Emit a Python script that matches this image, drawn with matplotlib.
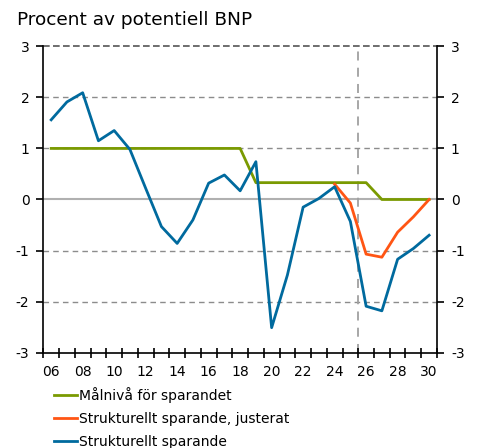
import matplotlib
matplotlib.use("Agg")
import matplotlib.pyplot as plt
import numpy as np

years = list(range(2006, 2031))
strukturellt = [1.56, 1.91, 2.09, 1.15, 1.35, 0.98, 0.22, -0.53, -0.86, -0.40,
                0.32, 0.48, 0.17, 0.74, -2.51, -1.48, -0.15, 0.02, 0.25, -0.43,
                -2.09, -2.18, -1.17, -0.96, -0.70]
just_years = list(range(2024, 2031))
justerat = [0.30, -0.07, -1.07, -1.13, -0.64, -0.34, 0.0]
malniva = [1.0]*13 + [0.33]*8 + [0.0]*4

tick_labels = ["06", "08", "10", "12", "14", "16", "18", "20", "22", "24", "26", "28", "30"]
tick_years = list(range(2006, 2031, 2))

GREEN = "#7a9a01"
ORANGE = "#ff5514"
BLUE = "#006a9e"

plt.rcParams['font.family'] = ['DejaVu Sans']

fig = plt.figure(figsize=(4.78, 4.48), dpi=100)
ax = fig.add_axes([0.0906, 0.2127, 0.8236, 0.684])

ax.set_xlim(2005.5, 2030.5)
ax.set_ylim(-3, 3)

# gridlines
for y in [1, 2, -1, -2]:
    ax.axhline(y, color="#8c8c8c", lw=1.0, ls=(0, (4, 3)), zorder=1)
ax.axhline(3, color="#555555", lw=1.2, ls=(0, (4, 2)), zorder=1, clip_on=False)
ax.axhline(0, color="#b0b0b0", lw=1.5, zorder=1)
ax.axvline(2025.5, color="#a0a0a0", lw=1.3, ls=(0, (5, 4)), zorder=1)

l1, = ax.plot(years, malniva, color=GREEN, lw=2, zorder=3, label="Målnivå för sparandet")
l2, = ax.plot(just_years, justerat, color=ORANGE, lw=2, zorder=3, label="Strukturellt sparande, justerat")
l3, = ax.plot(years, strukturellt, color=BLUE, lw=2, zorder=4, label="Strukturellt sparande")

ax.spines['top'].set_visible(False)
for s in ['left', 'right', 'bottom']:
    ax.spines[s].set_linewidth(1.2)
    ax.spines[s].set_color('black')

ax.set_yticks([-3, -2, -1, 0, 1, 2, 3])
ax.set_yticklabels(["-3", "-2", "-1", "0", "1", "2", "3"])
ax.tick_params(axis='y', which='major', direction='out', length=5, width=1.2,
               labelsize=10, left=True, right=True, labelleft=True, labelright=True, pad=5)

ax.set_xticks(tick_years)
ax.set_xticklabels(tick_labels)
ax.set_xticks(np.arange(2005.5, 2031, 1.0), minor=True)
ax.tick_params(axis='x', which='major', length=0, labelsize=10, pad=9)
ax.tick_params(axis='x', which='minor', direction='inout', length=7, width=1.2)

fig.text(0.035, 0.955, "Procent av potentiell BNP", fontsize=13.3, ha='left', va='center')

fig.legend(handles=[l1, l2, l3], loc='upper left', bbox_to_anchor=(0.113, 0.137),
           frameon=False, fontsize=10, handlelength=1.65, handletextpad=0.12,
           labelspacing=0.66, borderaxespad=0, borderpad=0)

fig.savefig("out.png", dpi=100)
